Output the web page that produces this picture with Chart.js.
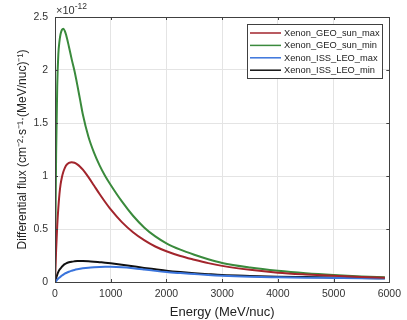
<!DOCTYPE html>
<html>
<head>
<meta charset="utf-8">
<script src="https://cdn.jsdelivr.net/npm/chart.js@4.4.0/dist/chart.umd.min.js"></script>
<style>
html,body{margin:0;padding:0;background:#fff;}
#wrap{width:407px;height:320px;}
</style>
</head>
<body>
<div id="wrap"><canvas id="c" width="407" height="320"></canvas></div>
<script>
// Energy (MeV/nuc)
const energy = [0, 20, 40, 60, 80, 100, 125, 150, 175, 200, 250, 300, 350, 400, 450, 500, 600, 700, 800, 900, 1000, 1200, 1400, 1600, 1800, 2000, 2250, 2500, 2750, 3000, 3500, 4000, 4500, 5000, 5500, 5920];
// Differential flux, in units of 1e-12
const geoSunMax = [0, 0.30, 0.53, 0.70, 0.83, 0.92, 0.99, 1.04, 1.075, 1.10, 1.123, 1.13, 1.125, 1.11, 1.088, 1.06, 0.99, 0.91, 0.83, 0.755, 0.685, 0.565, 0.47, 0.395, 0.335, 0.29, 0.245, 0.21, 0.178, 0.152, 0.115, 0.088, 0.071, 0.058, 0.048, 0.041];
const geoSunMin = [0, 1.20, 1.85, 2.15, 2.27, 2.34, 2.38, 2.39, 2.37, 2.33, 2.22, 2.10, 1.99, 1.86, 1.72, 1.58, 1.37, 1.22, 1.10, 1.00, 0.915, 0.76, 0.625, 0.515, 0.43, 0.365, 0.305, 0.257, 0.215, 0.18, 0.137, 0.106, 0.083, 0.066, 0.053, 0.044];
const issLeoMax = [0, 0.010, 0.022, 0.033, 0.043, 0.050, 0.061, 0.070, 0.078, 0.085, 0.097, 0.106, 0.114, 0.120, 0.125, 0.129, 0.135, 0.139, 0.142, 0.143, 0.143, 0.139, 0.130, 0.118, 0.105, 0.094, 0.084, 0.075, 0.066, 0.059, 0.050, 0.045, 0.041, 0.038, 0.035, 0.033];
const issLeoMin = [0, 0.035, 0.070, 0.095, 0.115, 0.128, 0.145, 0.158, 0.168, 0.176, 0.186, 0.192, 0.195, 0.197, 0.198, 0.198, 0.196, 0.192, 0.187, 0.182, 0.176, 0.163, 0.148, 0.133, 0.120, 0.107, 0.094, 0.083, 0.074, 0.066, 0.057, 0.050, 0.046, 0.042, 0.038, 0.035];
const seriesLabels = ['Xenon_GEO_sun_max', 'Xenon_GEO_sun_min', 'Xenon_ISS_LEO_max', 'Xenon_ISS_LEO_min'];
const seriesColors = ['#a2252c', '#3a8a3c', '#3a74dc', '#111111'];
const xTicks = [0, 1000, 2000, 3000, 4000, 5000, 6000];
const yTicks = [0, 0.5, 1, 1.5, 2, 2.5];
const exponentBase = '\u00d710';
const exponentPower = '-12';

const allSeries = [geoSunMax, geoSunMin, issLeoMax, issLeoMin];
const datasets = allSeries.map((s, i) => ({
  label: seriesLabels[i],
  data: s.map((v, j) => ({x: energy[j], y: v})),
  borderColor: seriesColors[i],
  backgroundColor: seriesColors[i],
  borderWidth: 2,
  pointRadius: 0,
  cubicInterpolationMode: 'monotone',
  fill: false
}));

const FONT = 'Liberation Sans, Arial, Helvetica, sans-serif';

const decorPlugin = {
  id: 'decor',
  afterDraw(chart) {
    const ctx = chart.ctx;
    const a = chart.chartArea;
    const xs = chart.scales.x, ys = chart.scales.y;
    ctx.save();
    // box
    ctx.strokeStyle = '#404040';
    ctx.lineWidth = 1;
    ctx.strokeRect(Math.round(a.left) + 0.5, Math.round(a.top) + 0.5, Math.round(a.right - a.left), Math.round(a.bottom - a.top));
    // inward ticks
    const tl = 3;
    xTicks.forEach(t => {
      const px = Math.round(xs.getPixelForValue(t)) + 0.5;
      ctx.beginPath();
      ctx.moveTo(px, a.bottom); ctx.lineTo(px, a.bottom - tl);
      ctx.moveTo(px, a.top); ctx.lineTo(px, a.top + tl);
      ctx.stroke();
    });
    yTicks.forEach(t => {
      const py = Math.round(ys.getPixelForValue(t)) + 0.5;
      ctx.beginPath();
      ctx.moveTo(a.left, py); ctx.lineTo(a.left + tl, py);
      ctx.moveTo(a.right, py); ctx.lineTo(a.right - tl, py);
      ctx.stroke();
    });
    // exponent label
    ctx.fillStyle = '#333';
    ctx.textBaseline = 'alphabetic';
    ctx.textAlign = 'left';
    ctx.font = '11px ' + FONT;
    ctx.fillText(exponentBase, a.left + 1, a.top - 3);
    const w = ctx.measureText(exponentBase).width;
    ctx.font = '8.5px ' + FONT;
    ctx.fillText(exponentPower, a.left + 1 + w, a.top - 8);
    // legend
    const lx = 247, ly = 24, lw = 135, lh = 54;
    ctx.fillStyle = '#fff';
    ctx.fillRect(lx, ly, lw, lh);
    ctx.strokeStyle = '#404040';
    ctx.strokeRect(lx + 0.5, ly + 0.5, lw, lh);
    ctx.font = '9.3px ' + FONT;
    ctx.textBaseline = 'middle';
    chart.data.datasets.forEach((ds, i) => {
      const yy = ly + 9 + i * 12.4;
      ctx.strokeStyle = ds.borderColor;
      ctx.lineWidth = 1.5;
      ctx.beginPath();
      ctx.moveTo(lx + 3, yy); ctx.lineTo(lx + 34, yy);
      ctx.stroke();
      ctx.fillStyle = '#222';
      ctx.fillText(ds.label, lx + 37, yy + 0.5);
    });
    ctx.restore();
  }
};

new Chart(document.getElementById('c'), {
  type: 'line',
  data: {datasets},
  options: {
    responsive: false,
    animation: false,
    layout: {padding: {left: 0, top: 17, right: 16, bottom: 0}},
    plugins: {legend: {display: false}, tooltip: {enabled: false}},
    scales: {
      x: {
        type: 'linear', min: 0, max: 6000,
        afterBuildTicks: s => { s.ticks = xTicks.map(v => ({value: v})); },
        afterFit: s => { s.height = 38; },
        grid: {color: '#e4e4e4', drawTicks: false, tickLength: 0},
        border: {display: false},
        ticks: {color: '#333', font: {family: FONT, size: 10.5}, padding: 6, maxRotation: 0, callback: v => String(v)},
        title: {display: true, text: 'Energy (MeV/nuc)', color: '#222', font: {family: FONT, size: 13}, padding: {top: 1, bottom: 0}}
      },
      y: {
        type: 'linear', min: 0, max: 2.5,
        afterBuildTicks: s => { s.ticks = yTicks.map(v => ({value: v})); },
        afterFit: s => { s.width = 55; },
        grid: {color: '#e4e4e4', drawTicks: false, tickLength: 0},
        border: {display: false},
        ticks: {color: '#333', font: {family: FONT, size: 10.5}, padding: 7, callback: v => String(v)},
        title: {display: true, text: 'Differential flux (cm\u207b\u00b2\u00b7s\u207b\u00b9\u00b7(MeV/nuc)\u207b\u00b9)', color: '#222', font: {family: FONT, size: 12}, padding: {top: 15, bottom: 0}}
      }
    }
  },
  plugins: [decorPlugin]
});
</script>
</body>
</html>
